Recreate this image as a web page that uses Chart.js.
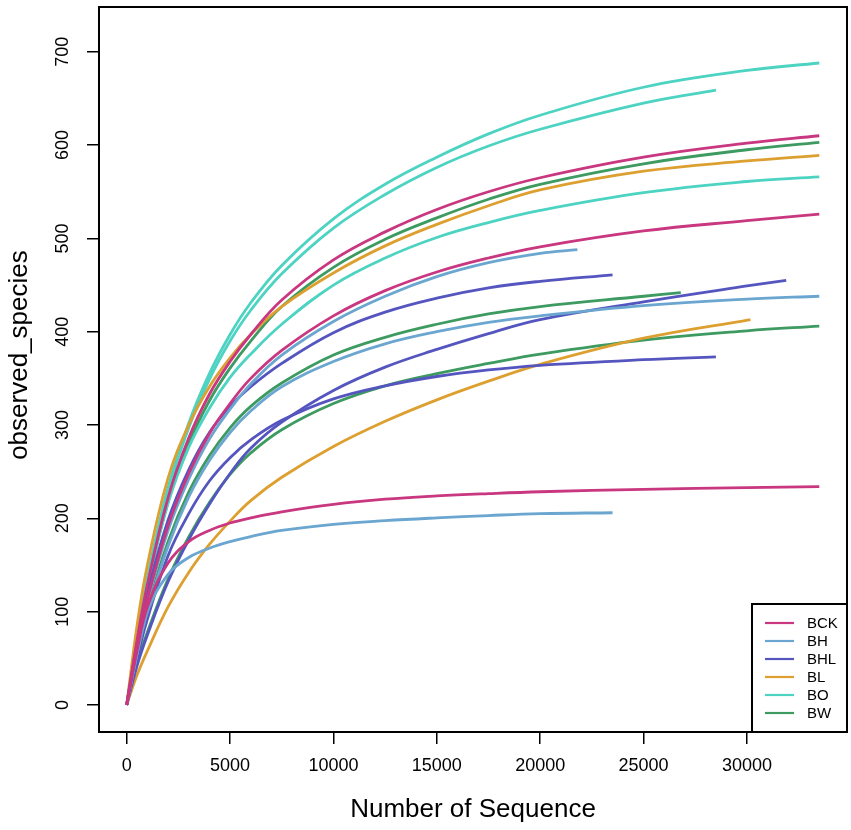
<!DOCTYPE html>
<html><head><meta charset="utf-8">
<script src="https://cdn.jsdelivr.net/npm/chart.js@4"></script>
<style>html,body{margin:0;padding:0;background:#fff}#wrap{width:851px;height:830px}</style>
</head><body><div id="wrap"><canvas id="c" width="851" height="830"></canvas></div>
<script>
const FONT = '"Liberation Sans", Arial, Helvetica, sans-serif';
const seqDepth = [0,500,1000,2000,3000,4000,5000,6000,7500,10000,12500,15000,17500,20000,25000,30000];
const xTicks = [0,5000,10000,15000,20000,25000,30000];
const yTicks = [0,100,200,300,400,500,600,700];
const groups = ['BCK','BH','BHL','BL','BO','BW'];
const groupColors = ['#C8377F','#6AA6D0','#5555C0','#DDA030','#4CD3C2','#3D9A60'];

const bck1 = [0,69,129,222,286,333,368,397,434,477,507,531,550,565,587,602];
const bck2 = [0,62,113,192,248,291,323,350,380,417,444,464,479,491,508,519];
const bck3 = [0,58,105,152,175,187,195,200.5,207,215,220.5,224,226.5,228.5,231,233];
const bh1  = [0,62,111,187,242,285,317,344,375,411,438,459,474,484];
const bh2  = [0,54,100,170,223,262,292,315,341,368,387,400,410,417,428,435];
const bh3  = [0,55,100,140,158,168,175,180.5,187,193.5,197.5,200.5,203,205];
const bhl1 = [0,66,120,198,252,292,320,341,366,399,421,436,447,454];
const bhl2 = [0,42,75,132,177,215,248,275,303,337,362,381,398,413,432,449];
const bhl3 = [0,50,92,160,205,240,265,284,305,328,342,352,359,364,370];
const bl1  = [0,85,150,243,300,341,372,397,427,463,492,515,535,552,572,583];
const bl2  = [0,32,58,105,142,172,197,219,244,277,304,327,347,365,393];
const bo1  = [0,74,137,233,302,355,397,431,471,521,558,587,612,632,662,680];
const bo2  = [0,72,134,229,297,349,390,423,462,511,547,576,599,617,645];
const bo3  = [0,68,127,216,276,318,351,376,408,450,479,501,517,530,549,561];
const bw1  = [0,68,127,218,280,326,361,390,427,469,499,522,542,558,580,595];
const bw2  = [0,55,103,175,228,267,297,320,345,375,394,408,419,427,438];
const bw3  = [0,45,78,135,180,217,247,270,295,323,342,355,366,376,391,401];

const sampleSeries = [bck1,bck2,bck3,bh1,bh2,bh3,bhl1,bhl2,bhl3,bl1,bl2,bo1,bo2,bo3,bw1,bw2,bw3];
const sampleGroup  = [0,0,0,1,1,1,2,2,2,3,3,4,4,4,5,5,5];
const endDepth     = [33500,33500,33500,21800,33500,23500,23500,31900,28500,33500,30170,33500,28500,33500,33500,26800,33500];
const endObserved  = [610,526,234,488,438,206,461,455,373,589,413,688,659,566,603,442,406];

const datasets = sampleSeries.map((vals, i) => {
  const pts = vals.map((v, j) => ({x: seqDepth[j], y: v}));
  pts.push({x: endDepth[i], y: endObserved[i]});
  return {
    data: pts,
    borderColor: groupColors[sampleGroup[i]],
    borderWidth: 2.8,
    pointRadius: 0,
    fill: false,
    tension: 0.4
  };
});

const boxPlugin = {
  id: 'box',
  afterDraw(chart) {
    const {ctx, chartArea: a} = chart;
    ctx.save();
    ctx.strokeStyle = '#000';
    ctx.lineWidth = 2;
    ctx.strokeRect(a.left, a.top, a.right - a.left, a.bottom - a.top);
    const w = 95, h = 128;
    const x0 = a.right - w, y0 = a.bottom - h;
    ctx.fillStyle = '#fff';
    ctx.fillRect(x0, y0, w, h);
    ctx.strokeRect(x0, y0, w, h);
    ctx.font = '15px ' + FONT;
    ctx.textBaseline = 'middle';
    ctx.textAlign = 'left';
    groups.forEach((g, k) => {
      const y = y0 + 19 + k * 18;
      ctx.strokeStyle = groupColors[k];
      ctx.lineWidth = 2.2;
      ctx.beginPath();
      ctx.moveTo(x0 + 13, y);
      ctx.lineTo(x0 + 42, y);
      ctx.stroke();
      ctx.fillStyle = '#000';
      ctx.fillText(g, x0 + 55, y + 1);
    });
    ctx.restore();
  }
};

new Chart(document.getElementById('c'), {
  type: 'line',
  data: { datasets },
  options: {
    responsive: false,
    animation: false,
    devicePixelRatio: 1,
    layout: { padding: { top: 7, right: 4, left: 0, bottom: 0 } },
    plugins: { legend: { display: false }, tooltip: { enabled: false } },
    scales: {
      x: {
        type: 'linear', min: -1340, max: 34840,
        afterBuildTicks: s => { s.ticks = xTicks.map(v => ({value: v})); },
        afterFit: s => { s.height = 98; s.paddingLeft = 0; s.paddingRight = 0; },
        ticks: { autoSkip: false, minRotation: 0, maxRotation: 0, padding: 11, color: '#000',
                 font: { family: FONT, size: 18 }, callback: v => String(v) },
        grid: { drawOnChartArea: false, drawTicks: true, tickLength: 12, color: '#000', lineWidth: 1.5 },
        border: { display: true, color: '#000', width: 2 },
        title: { display: true, text: 'Number of Sequence', color: '#000',
                 font: { family: FONT, size: 26 }, padding: { top: 0, bottom: 5 } }
      },
      y: {
        type: 'linear', min: -29, max: 748,
        afterBuildTicks: s => { s.ticks = yTicks.map(v => ({value: v})); },
        afterFit: s => { s.width = 99; s.paddingTop = 0; s.paddingBottom = 0; },
        ticks: { minRotation: 90, maxRotation: 90, crossAlign: 'center', padding: 9, color: '#000',
                 font: { family: FONT, size: 18 }, callback: v => String(v) },
        grid: { drawOnChartArea: false, drawTicks: true, tickLength: 12, color: '#000', lineWidth: 1.5 },
        border: { display: true, color: '#000', width: 2 },
        title: { display: true, text: '    observed_species', color: '#000',
                 font: { family: FONT, size: 26 }, padding: { top: 4, bottom: 0 } }
      }
    }
  },
  plugins: [boxPlugin]
});
</script>
</body></html>
